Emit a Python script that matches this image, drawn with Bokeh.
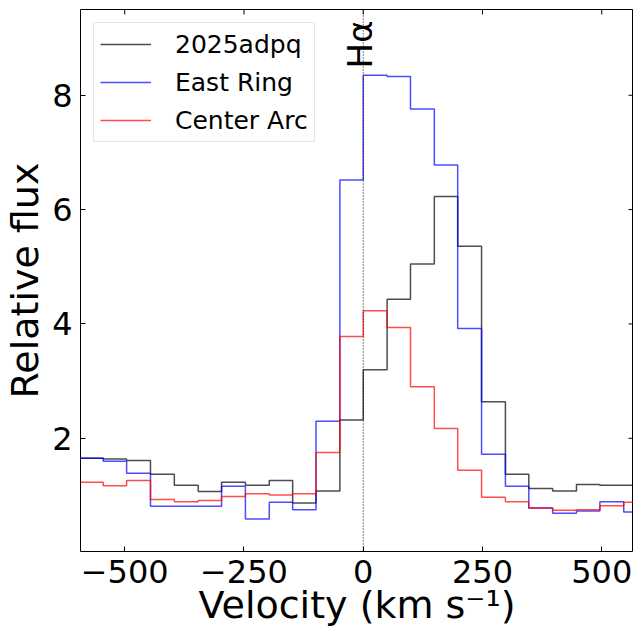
import numpy as np
from bokeh.plotting import figure
from bokeh.models import (Span, Legend, LegendItem, FixedTicker,
                          Range1d, ColumnDataSource)
from bokeh.core.properties import value
from bokeh.embed import file_html
from bokeh.resources import INLINE

# ---------------- data ----------------
bin_edges = [-595, -545, -496, -446, -396, -346, -297, -247, -197, -148, -99, -49,
             0, 50, 99, 149, 198, 248, 298, 347, 397, 447, 496, 546, 596]
flux_2025adpq = [1.65, 1.64, 1.61, 1.37, 1.18, 1.07, 1.23, 1.18, 1.26, 0.87, 1.08, 2.32,
                 3.20, 4.43, 5.05, 6.23, 5.36, 2.64, 1.37, 1.12, 1.08, 1.19, 1.18, 1.18]
flux_east_ring = [1.65, 1.60, 1.39, 0.81, 0.81, 0.81, 1.16, 0.59, 0.88, 0.75, 2.30, 6.52,
                  8.35, 8.33, 7.76, 6.78, 3.92, 1.72, 1.16, 0.78, 0.69, 0.73, 0.89, 0.71]
flux_center_arc = [1.23, 1.17, 1.26, 0.93, 0.89, 0.91, 0.98, 1.03, 1.01, 1.03, 1.75, 3.78,
                   4.23, 3.94, 2.90, 2.17, 1.44, 0.97, 0.89, 0.78, 0.74, 0.75, 0.82, 0.88]
series_names = ["2025adpq", "East Ring", "Center Arc"]
series_colors = ["black", "blue", "red"]

x_ticks = [-500, -250, 0, 250, 500]
x_tick_labels = ["\u2212500", "\u2212250", "0", "250", "500"]
y_ticks = [2, 4, 6, 8]
line_names = ["H\u03b1"]
line_velocities = [0]
line_label_y = [8.47]

x_min, x_max = -592.7, 566.5
y_min, y_max = 0.02, 9.5

FONT = "DejaVu Sans"

p = figure(width=633, height=631,
           x_range=Range1d(x_min, x_max), y_range=Range1d(y_min, y_max),
           output_backend="svg", toolbar_location=None,
           min_border_left=80, min_border_right=0, min_border_top=9,
           min_border_bottom=80)
p.background_fill_color = "white"
p.border_fill_color = "white"
p.outline_line_color = "black"
p.outline_line_width = 1
p.xgrid.visible = False
p.ygrid.visible = False

# main axes
xa = p.xaxis[0]
xa.ticker = FixedTicker(ticks=x_ticks)
xa.major_label_overrides = {t: l for t, l in zip(x_ticks, x_tick_labels)}
ya = p.yaxis[0]
ya.ticker = FixedTicker(ticks=y_ticks)
for ax in (xa, ya):
    ax.major_tick_in = 5
    ax.major_tick_out = 0
    ax.minor_tick_in = 0
    ax.minor_tick_out = 0
    ax.axis_line_color = None
    ax.major_tick_line_color = "black"
    ax.major_label_text_font = FONT
    ax.major_label_text_font_size = "32px"
    ax.major_label_text_color = "black"
    ax.axis_label_text_font = FONT
    ax.axis_label_text_font_size = "38px"
    ax.axis_label_text_font_style = "normal"
    ax.axis_label_text_color = "black"
xa.axis_label = "Velocity (km s\u207b\u00b9)"
ya.axis_label = "Relative flux"
xa.major_label_standoff = 8
xa.axis_label_standoff = -3
ya.major_label_standoff = 8
ya.axis_label_standoff = 2

# mirrored inward ticks on top and right edges (5 px, screen units)
p.ray(x=x_ticks, y=[y_max] * len(x_ticks), length=5, length_units="screen",
      angle=-np.pi / 2, line_color="black", line_width=1)
p.ray(x=[x_max] * len(y_ticks), y=y_ticks, length=5, length_units="screen",
      angle=np.pi, line_color="black", line_width=1)

# line marker
for v in line_velocities:
    p.add_layout(Span(location=v, dimension="height", line_color="black",
                      line_dash="1 2", line_width=1))
src_lbl = ColumnDataSource(dict(x=line_velocities, y=line_label_y, t=line_names))
p.text(x="x", y="y", text="t", source=src_lbl, angle=np.pi / 2,
       text_align="left", text_baseline="middle", x_offset=-3,
       text_font=value(FONT), text_font_size="34px", text_color="black")

# spectra
items = []
for name, color, vals in zip(series_names, series_colors,
                             [flux_2025adpq, flux_east_ring, flux_center_arc]):
    r = p.step(x=bin_edges, y=list(vals) + [vals[-1]], mode="after",
               line_color=color, line_width=1.5, line_alpha=0.7)
    items.append(LegendItem(label=name, renderers=[r]))

legend = Legend(items=items, location="top_left", margin=13, padding=6,
                spacing=8, glyph_width=51, glyph_height=30, label_height=30,
                label_standoff=24, label_text_font=FONT,
                label_text_font_size="25px", label_text_color="black",
                border_line_color="#cccccc",
                border_line_width=1, background_fill_alpha=0.8)
p.add_layout(legend)

open("out.html", "w").write(file_html(p, INLINE))
